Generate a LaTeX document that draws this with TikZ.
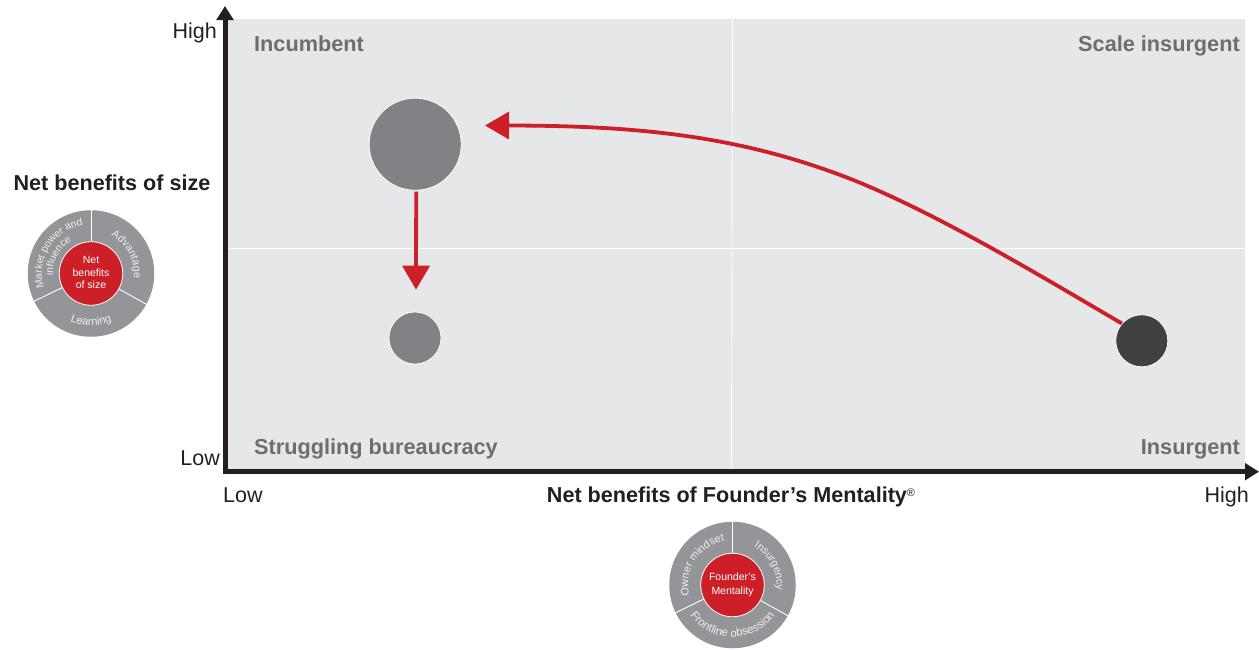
\documentclass[tikz,border=0pt]{standalone}
\usepackage{fontspec}
\setmainfont{Liberation Sans}
\usetikzlibrary{arrows.meta,decorations.text}
\definecolor{plotbg}{HTML}{E6E7E8}
\definecolor{axisk}{HTML}{231F20}
\definecolor{quadtxt}{HTML}{6D6E71}
\definecolor{ringg}{HTML}{939598}
\definecolor{brand}{HTML}{CC1F27}
\definecolor{midg}{HTML}{808285}
\definecolor{darkg}{HTML}{414042}
\newcommand{\fsz}[1]{\fontsize{#1}{#1}\selectfont}
\tikzset{
  axisline/.style={draw=axisk,line width=5pt,-{Triangle[length=14pt,width=16.5pt]}},
  gridline/.style={draw=white,line width=0.9pt},
  quad/.style={font=\fsz{21.7}\bfseries,text=quadtxt,inner sep=0pt},
  axlabel/.style={font=\fsz{21.5},text=axisk,inner sep=0pt},
  axtitle/.style={font=\fsz{21.6}\bfseries,text=axisk,inner sep=0pt},
  bubble/.style={circle,draw=white,line width=0.7pt,inner sep=0pt},
  redarrow/.style={draw=brand,line width=3.8pt,-{Triangle[length=24pt,width=27pt]}},
  ring/.style={circle,fill=ringg,inner sep=0pt,minimum size=126.5pt},
  hub/.style={circle,fill=brand,draw=white,line width=0.8pt,inner sep=0pt,minimum size=63.5pt,
    text=white,align=center,font=\fsz{10.5}},
  spoke/.style={draw=white,line width=0.9pt},
}
\newcommand{\cwtext}[4]{% centre angle, radius, size, text: reads clockwise
  \path[postaction={decorate,decoration={text along path,text align=center,
    text={|\fsz{#3}\color{white!85!ringg}|#4}}}] ({#1+70}:#2pt) arc[start angle={#1+70},end angle={#1-70},radius=#2pt];}
\newcommand{\ccwtext}[4]{% reads counter-clockwise
  \path[postaction={decorate,decoration={text along path,text align=center,
    text={|\fsz{#3}\color{white!85!ringg}|#4}}}] ({#1-70}:#2pt) arc[start angle={#1-70},end angle={#1+70},radius=#2pt];}
\begin{document}
\begin{tikzpicture}[x=1pt,y=-1pt]
\useasboundingbox (0,0) rectangle (1259,649);
% plot
\fill[plotbg] (228,19) rectangle (1245,470);
\coordinate (vtop) at (732.5,19);
\coordinate (vbot) at (731.5,470);
\coordinate (hl) at (228,248.5);
\coordinate (hr) at (1245,248.5);
\draw[gridline] (vtop) -- (vbot);
\draw[gridline] (hl) -- (hr);
% axes
\coordinate (origin) at (225,471.7);
\coordinate (ytop) at (225,6);
\coordinate (xend) at (1259,471.7);
\draw[axisline] ([yshift=-2.5pt]origin) -- (ytop);
\draw[axisline] ([xshift=-2.5pt]origin) -- (xend);
% quadrant labels
\node[quad,anchor=base west] (qi) at (254,51) {Incumbent};
\node[quad,anchor=base east] (qs) at (1240,51) {Scale insurgent};
\node[quad,anchor=base west] (qb) at (254,454) {Struggling bureaucracy};
\node[quad,anchor=base east] (qn) at (1240,454) {Insurgent};
% axis labels
\node[axlabel,anchor=base east] (yh) at (217,38) {High};
\node[axlabel,anchor=base east] (yl) at (220,465) {Low};
\node[axlabel,anchor=base west] (xl) at (223,502) {Low};
\node[axlabel,anchor=base east] (xh) at (1249,502) {High};
\node[axtitle,anchor=base] (ty) at (112,190) {Net benefits of size};
\node[axtitle,anchor=base] (tx) at (731,502) {Net benefits of Founder’s Mentality\raisebox{6pt}{\fsz{11}\normalfont ®}};
% bubbles
\node[bubble,fill=midg,minimum size=92pt] (big) at (415.2,144.2) {};
\node[bubble,fill=midg,minimum size=52pt] (small) at (415,338) {};
\node[bubble,fill=darkg,minimum size=52pt] (dark) at (1141.8,340.8) {};
% arrows
\coordinate (headtip) at (485,125.5);
\draw[redarrow] ([xshift=1pt,yshift=-1pt]big.south) -- ([xshift=1pt,yshift=22pt]small.north);
\draw[redarrow] (dark.139) .. controls (1035,272.6) and (945,218.4) .. (860,182.7)
  .. controls (745,136) and (640,125.6) .. (headtip);
% left wheel
\begin{scope}[shift={(91,273.5)},y=1pt]
  \node[ring] (w1) at (0,0) {};
  \foreach \a in {90,-29,206} \draw[spoke] (\a:31pt) -- (\a:64pt);
  \node[hub] (h1) at (0,0) {\raisebox{1.5pt}{Net}\\[2pt]\raisebox{1.5pt}{benefits}\\[2pt]\raisebox{1.5pt}{of size}};
  \cwtext{28}{43}{10.7}{Advantage}
  \cwtext{148}{49}{10.4}{Market power and}
  \cwtext{152}{38}{10.4}{influence}
  \ccwtext{270}{52}{11}{Learning}
\end{scope}
% bottom wheel
\begin{scope}[shift={(732.5,585)},y=1pt]
  \node[ring] (w2) at (0,0) {};
  \foreach \a in {90,-29,206} \draw[spoke] (\a:31pt) -- (\a:64pt);
  \node[hub] (h2) at (0,0) {Founder’s\\[3pt]Mentality};
  \cwtext{27}{44}{10.6}{Insurgency}
  \cwtext{147}{44.5}{10.8}{Owner mindset}
  \ccwtext{270}{52}{11.4}{Frontline obsession}
\end{scope}
\end{tikzpicture}
\end{document}
